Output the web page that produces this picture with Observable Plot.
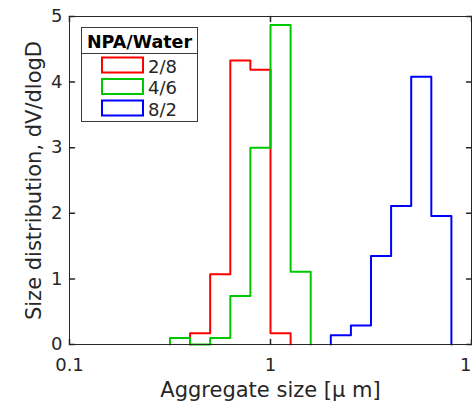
<!DOCTYPE html>
<html>
<head>
<meta charset="utf-8">
<script src="https://cdn.jsdelivr.net/npm/d3@7"></script>
<script src="https://cdn.jsdelivr.net/npm/@observablehq/plot@0.6"></script>
<style>
  html, body { margin: 0; padding: 0; background: #fff; }
  #chart { position: relative; width: 472px; height: 405px; overflow: hidden; }
  svg { font-family: "DejaVu Sans", sans-serif; }
</style>
</head>
<body>
<div id="chart"></div>
<script>
// ---- data ----
const seriesNames = ["2/8", "4/6", "8/2"];
const seriesColors = ["#ff0000", "#00c800", "#0000ff"];
const legendTitle = "NPA/Water";

// bin edges (aggregate size, µm) and dV/dlogD values per bin
const redEdges = [0.398, 0.501, 0.631, 0.794, 1.0, 1.259];
const redValues = [0.17, 1.07, 4.33, 4.19, 0.17];
const greenEdges = [0.316, 0.398, 0.501, 0.631, 0.794, 1.0, 1.259, 1.585];
const greenValues = [0.10, 0, 0.10, 0.74, 3.00, 4.87, 1.11];
const blueEdges = [1.995, 2.512, 3.162, 3.981, 5.012, 6.310, 7.943];
const blueValues = [0.14, 0.29, 1.35, 2.11, 4.08, 1.96];

const xTicks = [0.1, 1, 10];
const xTickLabels = ["0.1", "1", "10"];
const yTicks = [0, 1, 2, 3, 4, 5];
const yTickLabels = ["0", "1", "2", "3", "4", "5"];
const xLabel = "Aggregate size [\u03bc m]";
const yLabel = "Size distribution, dV/dlogD";

// ---- build step rows ----
const allEdges = [redEdges, greenEdges, blueEdges];
const allValues = [redValues, greenValues, blueValues];
const rows = [];
seriesNames.forEach((s, k) => {
  const e = allEdges[k], v = allValues[k];
  rows.push({s, x: e[0], y: 0});
  v.forEach((val, i) => rows.push({s, x: e[i], y: val}));
  rows.push({s, x: e[e.length - 1], y: 0});
});

const axisColor = "#262626";
const tickShape = {draw(context, l) { context.moveTo(0, 0); context.lineTo(0, -l); }};

const plot = Plot.plot({
  width: 472,
  height: 405,
  marginLeft: 69,
  marginRight: 1,
  marginTop: 16,
  marginBottom: 61,
  style: {fontFamily: "DejaVu Sans, sans-serif", color: axisColor, background: "#fff"},
  x: {type: "log", domain: [0.1, 10]},
  y: {domain: [0, 5]},
  color: {domain: seriesNames, range: seriesColors},
  marks: [
    Plot.line(rows, {x: "x", y: "y", z: "s", stroke: "s", curve: "step-after", strokeWidth: 2}),
    Plot.frame({stroke: axisColor, strokeWidth: 1}),
    // inward ticks
    Plot.vector(xTicks, {x: d => d, frameAnchor: "bottom", length: 5, rotate: 0, anchor: "start", shape: tickShape, stroke: axisColor}),
    Plot.vector(xTicks, {x: d => d, frameAnchor: "top", length: 5, rotate: 180, anchor: "start", shape: tickShape, stroke: axisColor}),
    Plot.vector(yTicks, {y: d => d, frameAnchor: "left", length: 5, rotate: 90, anchor: "start", shape: tickShape, stroke: axisColor}),
    Plot.vector(yTicks, {y: d => d, frameAnchor: "right", length: 5, rotate: -90, anchor: "start", shape: tickShape, stroke: axisColor}),
    Plot.axisX({ticks: xTicks, tickFormat: d => xTickLabels[xTicks.indexOf(d)], tickSize: 0, tickPadding: 14, fontSize: 18, label: null, fill: axisColor}),
    Plot.axisY({ticks: yTicks, tickFormat: d => yTickLabels[yTicks.indexOf(d)], tickSize: 0, tickPadding: 7, fontSize: 18, label: null, fill: axisColor}),
    Plot.text([xLabel], {frameAnchor: "bottom", dy: 46, fontSize: 21, textAnchor: "middle", lineAnchor: "middle", fill: axisColor}),
    Plot.text([yLabel], {frameAnchor: "left", dx: -35, rotate: -90, fontSize: 21, textAnchor: "middle", lineAnchor: "middle", fill: axisColor})
  ]
});

document.getElementById("chart").appendChild(plot);

// ---- legend (overlaid inside the axes, top-left) ----
const svg = d3.select(plot);
const lg = svg.append("g").attr("class", "legend").attr("text-anchor", "start");
const bx = 81, by = 27, bw = 116, bh = 94, sep = 53;
lg.append("rect").attr("x", bx + 0.5).attr("y", by + 0.5).attr("width", bw).attr("height", bh)
  .attr("fill", "#fff").attr("stroke", "#3a3a3a").attr("stroke-width", 1);
lg.append("line").attr("x1", bx + 0.5).attr("x2", bx + bw + 0.5).attr("y1", sep + 0.5).attr("y2", sep + 0.5)
  .attr("stroke", "#3a3a3a").attr("stroke-width", 1);
lg.append("text").attr("x", bx + bw / 2 + 0.5).attr("y", 48).attr("text-anchor", "middle")
  .attr("font-size", 17.5).attr("font-weight", "bold").attr("fill", "#000").text(legendTitle);
seriesNames.forEach((s, i) => {
  const cy = 65 + i * 21.5;
  lg.append("rect").attr("x", 102).attr("y", cy - 7.5).attr("width", 41).attr("height", 15)
    .attr("fill", "none").attr("stroke", seriesColors[i]).attr("stroke-width", 2);
  lg.append("text").attr("x", 148).attr("y", cy + 7.5).attr("text-anchor", "start")
    .attr("font-size", 18).attr("fill", axisColor).text(s);
});
</script>
</body>
</html>
